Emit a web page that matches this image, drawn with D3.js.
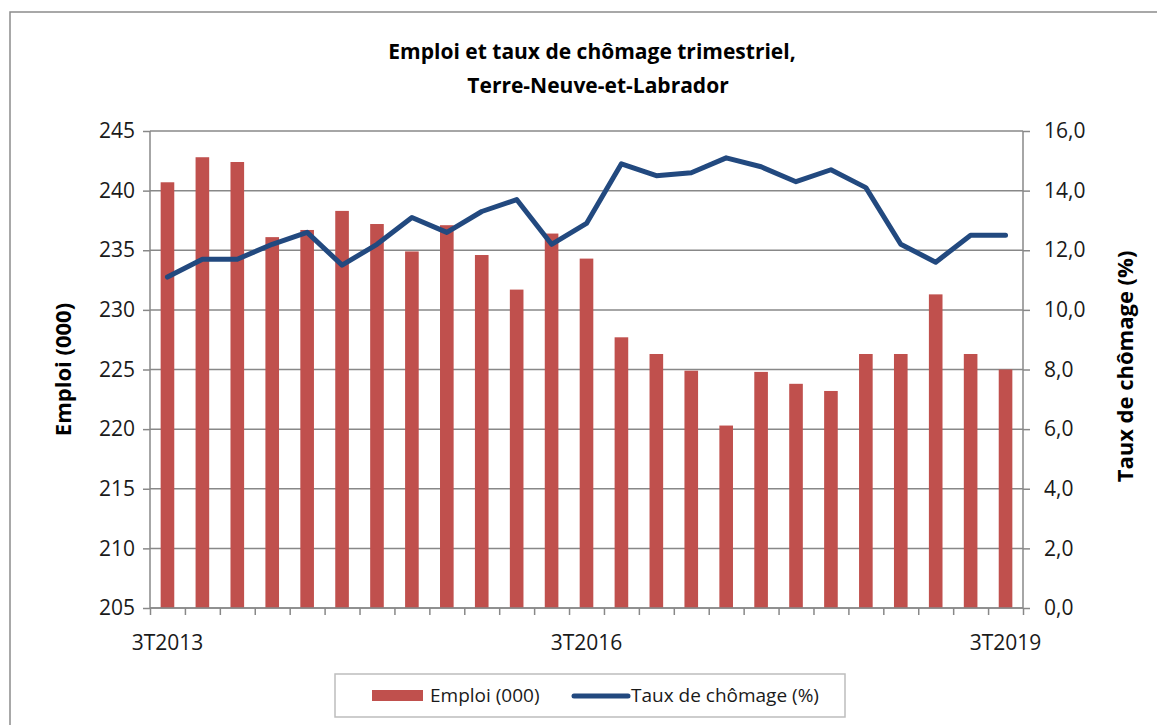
<!DOCTYPE html>
<html>
<head>
<meta charset="utf-8">
<script src="https://cdn.jsdelivr.net/npm/d3@7"></script>
<style>
  body { margin: 0; background: #fff; }
  svg { font-family: "Open Sans", sans-serif; }
</style>
</head>
<body>
<svg width="1157" height="725"></svg>
<script>
"use strict";

const quarters = ['3T2013', '4T2013', '1T2014', '2T2014', '3T2014', '4T2014', '1T2015', '2T2015', '3T2015', '4T2015',
    '1T2016', '2T2016', '3T2016', '4T2016', '1T2017', '2T2017', '3T2017', '4T2017', '1T2018', '2T2018',
    '3T2018', '4T2018', '1T2019', '2T2019', '3T2019'];
const emploi = [240.7, 242.8, 242.4, 236.1, 236.7, 238.3, 237.2, 234.9, 237.1, 234.6,
    231.7, 236.4, 234.3, 227.7, 226.3, 224.9, 220.3, 224.8, 223.8, 223.2,
    226.3, 226.3, 231.3, 226.3, 225.0];
const chomage = [11.1, 11.7, 11.7, 12.2, 12.6, 11.5, 12.2, 13.1, 12.6, 13.3,
    13.7, 12.2, 12.9, 14.9, 14.5, 14.6, 15.1, 14.8, 14.3, 14.7,
    14.1, 12.2, 11.6, 12.5, 12.5];
const xLabels = ['3T2013', '3T2016', '3T2019'];
const leftTicks = [205, 210, 215, 220, 225, 230, 235, 240, 245];
const rightTicks = [0, 2, 4, 6, 8, 10, 12, 14, 16];

const colorMapping = {
    Emploi: '#C0504D',
    Chomage: '#22497F',
    grid: '#888888'
};

const svg = d3.select('svg');

// chart border
svg.append('rect')
    .attr('x', 10).attr('y', 12)
    .attr('width', 1170).attr('height', 740)
    .attr('fill', 'none')
    .attr('stroke', '#8c8c8c')
    .attr('stroke-width', 1.5);

const margin = {top: 131, left: 150, right: 134, bottom: 117},
    width = 1157 - margin.left - margin.right,
    height = 725 - margin.top - margin.bottom,
    g = svg.append('g').attr('transform', `translate(${margin.left},${margin.top})`);

const x = d3.scaleBand().domain(quarters).range([0, width]).paddingInner(0.61).paddingOuter(0.305);
const yLeft = d3.scaleLinear().domain([205, 245]).range([height, 0]);
const yRight = d3.scaleLinear().domain([0, 16]).range([height, 0]);

// title
const title = svg.append('text')
    .attr('text-anchor', 'middle')
    .attr('font-weight', 'bold')
    .attr('font-size', '21px')
    .attr('fill', '#000');
title.append('tspan').attr('x', 592).attr('y', 59).text('Emploi et taux de chômage trimestriel,');
title.append('tspan').attr('x', 598).attr('y', 93).text('Terre-Neuve-et-Labrador');

// gridlines
g.append('g')
    .selectAll('line')
    .data(leftTicks)
    .join('line')
    .attr('x1', 0).attr('x2', width)
    .attr('y1', d => yLeft(d)).attr('y2', d => yLeft(d))
    .attr('stroke', colorMapping.grid)
    .attr('stroke-width', 1.5);

// bars
g.append('g')
    .selectAll('rect')
    .data(emploi)
    .join('rect')
    .attr('x', (d, i) => x(quarters[i]))
    .attr('y', d => yLeft(d))
    .attr('width', x.bandwidth())
    .attr('height', d => height - yLeft(d))
    .attr('fill', colorMapping.Emploi);

// left axis
const axLeft = g.append('g')
    .call(d3.axisLeft(yLeft).tickValues(leftTicks).tickSize(7).tickPadding(8));
// right axis
const axRight = g.append('g')
    .attr('transform', `translate(${width},0)`)
    .call(d3.axisRight(yRight).tickValues(rightTicks).tickSize(7).tickPadding(14)
        .tickFormat(d => d3.format('.1f')(d).replace('.', ',')));
// bottom axis: ticks on category boundaries
const xEdges = d3.scaleLinear().domain([0, quarters.length]).range([0, width]);
const axBottom = g.append('g')
    .attr('transform', `translate(0,${height})`)
    .call(d3.axisBottom(xEdges).tickValues(d3.range(quarters.length + 1)).tickSize(7).tickFormat(''));

[axLeft, axRight, axBottom].forEach(a => {
    a.select('.domain').attr('stroke', colorMapping.grid).attr('stroke-width', 1.5);
    a.selectAll('.tick line').attr('stroke', colorMapping.grid).attr('stroke-width', 1.5);
    a.selectAll('.tick text').attr('fill', '#1a1a1a').attr('font-size', '21px').attr('font-family', '"Open Sans", sans-serif');
});
axLeft.select('.domain').attr('d', `M0,0V${height}`);
axRight.select('.domain').attr('d', `M0,0V${height}`);
axBottom.select('.domain').attr('d', `M0,0H${width}`);

// x labels
g.append('g')
    .selectAll('text')
    .data(xLabels)
    .join('text')
    .attr('x', d => x(d) + x.bandwidth() / 2)
    .attr('y', height + 42)
    .attr('text-anchor', 'middle')
    .attr('font-size', '21px')
    .attr('fill', '#1a1a1a')
    .text(d => d);

// line
const line = d3.line()
    .x((d, i) => x(quarters[i]) + x.bandwidth() / 2)
    .y(d => yRight(d));
g.append('path')
    .datum(chomage)
    .attr('d', line)
    .attr('fill', 'none')
    .attr('stroke', colorMapping.Chomage)
    .attr('stroke-width', 5)
    .attr('stroke-linejoin', 'round')
    .attr('stroke-linecap', 'round');

// axis titles
svg.append('text')
    .attr('transform', `translate(71,${margin.top + height / 2}) rotate(-90)`)
    .attr('text-anchor', 'middle')
    .attr('font-weight', 'bold')
    .attr('font-size', '22px')
    .text('Emploi (000)');
svg.append('text')
    .attr('transform', `translate(1133,${margin.top + height / 2 - 3}) rotate(-90)`)
    .attr('text-anchor', 'middle')
    .attr('font-weight', 'bold')
    .attr('font-size', '22px')
    .text('Taux de chômage (%)');

// legend
const legend = svg.append('g');
legend.append('rect')
    .attr('x', 335).attr('y', 674)
    .attr('width', 510).attr('height', 43)
    .attr('fill', '#fff')
    .attr('stroke', '#bdbdbd')
    .attr('stroke-width', 1.5);
legend.append('rect')
    .attr('x', 372).attr('y', 690)
    .attr('width', 51).attr('height', 11)
    .attr('fill', colorMapping.Emploi);
legend.append('text')
    .attr('x', 430).attr('y', 702)
    .attr('font-size', '19px')
    .attr('fill', '#1a1a1a')
    .text('Emploi (000)');
legend.append('line')
    .attr('x1', 574).attr('x2', 628)
    .attr('y1', 696).attr('y2', 696)
    .attr('stroke', colorMapping.Chomage)
    .attr('stroke-width', 5)
    .attr('stroke-linecap', 'round');
legend.append('text')
    .attr('x', 631).attr('y', 702)
    .attr('font-size', '19px')
    .attr('fill', '#1a1a1a')
    .text('Taux de chômage (%)');
</script>
</body>
</html>
